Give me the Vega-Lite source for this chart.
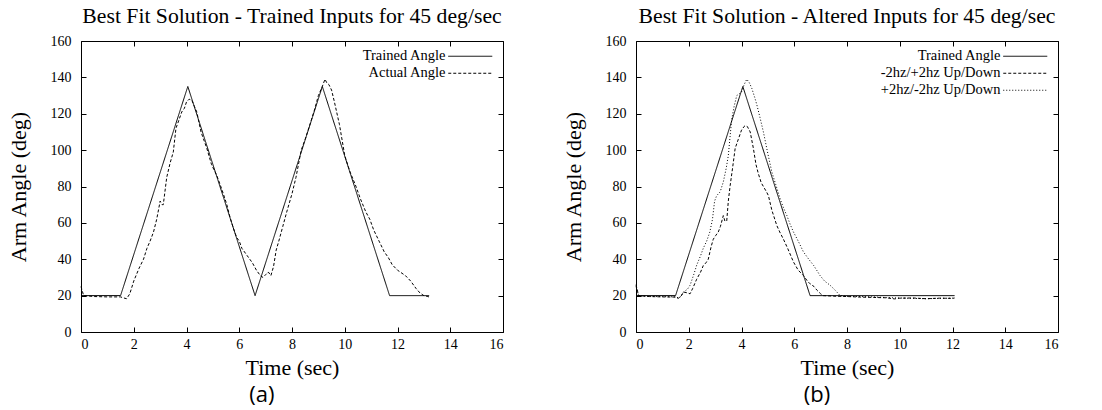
{
  "$schema": "https://vega.github.io/schema/vega-lite/v6.json",
  "background": "white",
  "padding": {"left": 6, "top": 5, "right": 5, "bottom": 2},
  "spacing": 57,
  "config": {
    "view": {"stroke": "black", "strokeWidth": 1},
    "font": "Liberation Serif",
    "title": {"font": "Liberation Serif", "fontSize": 21.7, "fontWeight": "normal", "color": "black", "offset": 6},
    "axis": {"grid": false, "domain": false, "ticks": true, "tickColor": "black", "tickOpacity": 1, "tickWidth": 1, "tickSize": 5, "offset": -5, "zindex": 1, "labelFont": "Liberation Serif", "labelFontSize": 14, "labelColor": "black", "titleFont": "Liberation Serif", "titleFontSize": 22, "titleFontWeight": "normal", "titleColor": "black"},
    "legend": {"orient": "top-right", "offset": 8, "labelFont": "Liberation Serif", "labelFontSize": 14.5, "labelColor": "black", "labelAlign": "right", "labelOffset": -32, "symbolType": "M-4,0H4", "symbolSize": 121, "symbolStrokeWidth": 1, "symbolStrokeColor": "black", "rowPadding": 2, "title": null}
  },
  "resolve": {"scale": {"strokeDash": "independent"}, "legend": {"strokeDash": "independent"}},
  "datasets": {
    "left": [
      {"series": "Trained Angle", "t": 0, "angle": 20},
      {"series": "Trained Angle", "t": 1.5, "angle": 20},
      {"series": "Trained Angle", "t": 4.05, "angle": 135},
      {"series": "Trained Angle", "t": 6.6, "angle": 20},
      {"series": "Trained Angle", "t": 9.15, "angle": 135},
      {"series": "Trained Angle", "t": 11.7, "angle": 20},
      {"series": "Trained Angle", "t": 13.2, "angle": 20},
      {"series": "Actual Angle", "t": 0, "angle": 25},
      {"series": "Actual Angle", "t": 0.1, "angle": 20},
      {"series": "Actual Angle", "t": 0.5, "angle": 19.5},
      {"series": "Actual Angle", "t": 1.0, "angle": 19.3},
      {"series": "Actual Angle", "t": 1.5, "angle": 19.3},
      {"series": "Actual Angle", "t": 1.6, "angle": 18.8},
      {"series": "Actual Angle", "t": 1.73, "angle": 18.3},
      {"series": "Actual Angle", "t": 1.85, "angle": 21},
      {"series": "Actual Angle", "t": 2.0, "angle": 28},
      {"series": "Actual Angle", "t": 2.2, "angle": 35},
      {"series": "Actual Angle", "t": 2.37, "angle": 40},
      {"series": "Actual Angle", "t": 2.5, "angle": 46},
      {"series": "Actual Angle", "t": 2.62, "angle": 50},
      {"series": "Actual Angle", "t": 2.75, "angle": 55},
      {"series": "Actual Angle", "t": 2.87, "angle": 62},
      {"series": "Actual Angle", "t": 2.95, "angle": 68},
      {"series": "Actual Angle", "t": 3.0, "angle": 72},
      {"series": "Actual Angle", "t": 3.08, "angle": 70},
      {"series": "Actual Angle", "t": 3.12, "angle": 70},
      {"series": "Actual Angle", "t": 3.25, "angle": 85},
      {"series": "Actual Angle", "t": 3.38, "angle": 93},
      {"series": "Actual Angle", "t": 3.5, "angle": 99},
      {"series": "Actual Angle", "t": 3.6, "angle": 112},
      {"series": "Actual Angle", "t": 3.7, "angle": 116},
      {"series": "Actual Angle", "t": 3.82, "angle": 121},
      {"series": "Actual Angle", "t": 3.92, "angle": 123},
      {"series": "Actual Angle", "t": 4.0, "angle": 126.5},
      {"series": "Actual Angle", "t": 4.1, "angle": 128},
      {"series": "Actual Angle", "t": 4.2, "angle": 127.5},
      {"series": "Actual Angle", "t": 4.3, "angle": 124},
      {"series": "Actual Angle", "t": 4.39, "angle": 121},
      {"series": "Actual Angle", "t": 4.55, "angle": 110},
      {"series": "Actual Angle", "t": 4.77, "angle": 101},
      {"series": "Actual Angle", "t": 4.95, "angle": 92},
      {"series": "Actual Angle", "t": 5.15, "angle": 86},
      {"series": "Actual Angle", "t": 5.35, "angle": 78},
      {"series": "Actual Angle", "t": 5.53, "angle": 70},
      {"series": "Actual Angle", "t": 5.65, "angle": 63},
      {"series": "Actual Angle", "t": 5.78, "angle": 57},
      {"series": "Actual Angle", "t": 5.9, "angle": 52},
      {"series": "Actual Angle", "t": 6.0, "angle": 50},
      {"series": "Actual Angle", "t": 6.1, "angle": 46},
      {"series": "Actual Angle", "t": 6.3, "angle": 42},
      {"series": "Actual Angle", "t": 6.5, "angle": 38},
      {"series": "Actual Angle", "t": 6.65, "angle": 34},
      {"series": "Actual Angle", "t": 6.8, "angle": 31},
      {"series": "Actual Angle", "t": 6.9, "angle": 30},
      {"series": "Actual Angle", "t": 7.0, "angle": 31.5},
      {"series": "Actual Angle", "t": 7.1, "angle": 33},
      {"series": "Actual Angle", "t": 7.2, "angle": 31},
      {"series": "Actual Angle", "t": 7.3, "angle": 36},
      {"series": "Actual Angle", "t": 7.4, "angle": 45},
      {"series": "Actual Angle", "t": 7.5, "angle": 50},
      {"series": "Actual Angle", "t": 7.65, "angle": 58},
      {"series": "Actual Angle", "t": 7.8, "angle": 66},
      {"series": "Actual Angle", "t": 8.0, "angle": 76},
      {"series": "Actual Angle", "t": 8.15, "angle": 85},
      {"series": "Actual Angle", "t": 8.35, "angle": 100},
      {"series": "Actual Angle", "t": 8.5, "angle": 106},
      {"series": "Actual Angle", "t": 8.7, "angle": 115},
      {"series": "Actual Angle", "t": 8.85, "angle": 122},
      {"series": "Actual Angle", "t": 9.0, "angle": 130},
      {"series": "Actual Angle", "t": 9.15, "angle": 135},
      {"series": "Actual Angle", "t": 9.25, "angle": 139},
      {"series": "Actual Angle", "t": 9.32, "angle": 137},
      {"series": "Actual Angle", "t": 9.4, "angle": 136},
      {"series": "Actual Angle", "t": 9.5, "angle": 133},
      {"series": "Actual Angle", "t": 9.6, "angle": 127},
      {"series": "Actual Angle", "t": 9.8, "angle": 114},
      {"series": "Actual Angle", "t": 10.0, "angle": 97},
      {"series": "Actual Angle", "t": 10.2, "angle": 88},
      {"series": "Actual Angle", "t": 10.4, "angle": 81},
      {"series": "Actual Angle", "t": 10.6, "angle": 73},
      {"series": "Actual Angle", "t": 10.8, "angle": 66},
      {"series": "Actual Angle", "t": 10.95, "angle": 62},
      {"series": "Actual Angle", "t": 11.1, "angle": 56},
      {"series": "Actual Angle", "t": 11.3, "angle": 50},
      {"series": "Actual Angle", "t": 11.5, "angle": 44},
      {"series": "Actual Angle", "t": 11.65, "angle": 41},
      {"series": "Actual Angle", "t": 11.8, "angle": 37},
      {"series": "Actual Angle", "t": 12.0, "angle": 34},
      {"series": "Actual Angle", "t": 12.3, "angle": 31},
      {"series": "Actual Angle", "t": 12.5, "angle": 28},
      {"series": "Actual Angle", "t": 12.7, "angle": 24},
      {"series": "Actual Angle", "t": 12.85, "angle": 21.5},
      {"series": "Actual Angle", "t": 13.0, "angle": 20},
      {"series": "Actual Angle", "t": 13.15, "angle": 19.5},
      {"series": "Actual Angle", "t": 13.25, "angle": 19}
    ],
    "right": [
      {"series": "Trained Angle", "t": 0, "angle": 20},
      {"series": "Trained Angle", "t": 1.5, "angle": 20},
      {"series": "Trained Angle", "t": 4.05, "angle": 135},
      {"series": "Trained Angle", "t": 6.6, "angle": 20},
      {"series": "Trained Angle", "t": 12.08, "angle": 20},
      {"series": "-2hz/+2hz Up/Down", "t": 0, "angle": 26},
      {"series": "-2hz/+2hz Up/Down", "t": 0.1, "angle": 20},
      {"series": "-2hz/+2hz Up/Down", "t": 0.5, "angle": 19.5},
      {"series": "-2hz/+2hz Up/Down", "t": 1.0, "angle": 19.3},
      {"series": "-2hz/+2hz Up/Down", "t": 1.5, "angle": 19.2},
      {"series": "-2hz/+2hz Up/Down", "t": 1.6, "angle": 18.5},
      {"series": "-2hz/+2hz Up/Down", "t": 1.7, "angle": 19.5},
      {"series": "-2hz/+2hz Up/Down", "t": 1.8, "angle": 22},
      {"series": "-2hz/+2hz Up/Down", "t": 1.95, "angle": 21.5},
      {"series": "-2hz/+2hz Up/Down", "t": 2.05, "angle": 21},
      {"series": "-2hz/+2hz Up/Down", "t": 2.15, "angle": 24},
      {"series": "-2hz/+2hz Up/Down", "t": 2.3, "angle": 29},
      {"series": "-2hz/+2hz Up/Down", "t": 2.45, "angle": 33},
      {"series": "-2hz/+2hz Up/Down", "t": 2.55, "angle": 36.5},
      {"series": "-2hz/+2hz Up/Down", "t": 2.65, "angle": 38},
      {"series": "-2hz/+2hz Up/Down", "t": 2.74, "angle": 40},
      {"series": "-2hz/+2hz Up/Down", "t": 2.85, "angle": 47},
      {"series": "-2hz/+2hz Up/Down", "t": 2.93, "angle": 51},
      {"series": "-2hz/+2hz Up/Down", "t": 3.02, "angle": 53},
      {"series": "-2hz/+2hz Up/Down", "t": 3.12, "angle": 55},
      {"series": "-2hz/+2hz Up/Down", "t": 3.2, "angle": 58},
      {"series": "-2hz/+2hz Up/Down", "t": 3.31, "angle": 64},
      {"series": "-2hz/+2hz Up/Down", "t": 3.37, "angle": 61},
      {"series": "-2hz/+2hz Up/Down", "t": 3.44, "angle": 61},
      {"series": "-2hz/+2hz Up/Down", "t": 3.5, "angle": 72},
      {"series": "-2hz/+2hz Up/Down", "t": 3.57, "angle": 80.5},
      {"series": "-2hz/+2hz Up/Down", "t": 3.66, "angle": 90},
      {"series": "-2hz/+2hz Up/Down", "t": 3.76, "angle": 101},
      {"series": "-2hz/+2hz Up/Down", "t": 3.88, "angle": 106},
      {"series": "-2hz/+2hz Up/Down", "t": 4.0, "angle": 111},
      {"series": "-2hz/+2hz Up/Down", "t": 4.1, "angle": 113},
      {"series": "-2hz/+2hz Up/Down", "t": 4.14, "angle": 113.5},
      {"series": "-2hz/+2hz Up/Down", "t": 4.22, "angle": 113},
      {"series": "-2hz/+2hz Up/Down", "t": 4.33, "angle": 110},
      {"series": "-2hz/+2hz Up/Down", "t": 4.45, "angle": 101},
      {"series": "-2hz/+2hz Up/Down", "t": 4.55, "angle": 92},
      {"series": "-2hz/+2hz Up/Down", "t": 4.64, "angle": 87},
      {"series": "-2hz/+2hz Up/Down", "t": 4.75, "angle": 82},
      {"series": "-2hz/+2hz Up/Down", "t": 4.83, "angle": 80},
      {"series": "-2hz/+2hz Up/Down", "t": 4.95, "angle": 77},
      {"series": "-2hz/+2hz Up/Down", "t": 5.02, "angle": 75},
      {"series": "-2hz/+2hz Up/Down", "t": 5.15, "angle": 67},
      {"series": "-2hz/+2hz Up/Down", "t": 5.34, "angle": 58.5},
      {"series": "-2hz/+2hz Up/Down", "t": 5.45, "angle": 55},
      {"series": "-2hz/+2hz Up/Down", "t": 5.59, "angle": 51},
      {"series": "-2hz/+2hz Up/Down", "t": 5.75, "angle": 46},
      {"series": "-2hz/+2hz Up/Down", "t": 5.97, "angle": 38.5},
      {"series": "-2hz/+2hz Up/Down", "t": 6.15, "angle": 34},
      {"series": "-2hz/+2hz Up/Down", "t": 6.35, "angle": 31},
      {"series": "-2hz/+2hz Up/Down", "t": 6.5, "angle": 28},
      {"series": "-2hz/+2hz Up/Down", "t": 6.6, "angle": 26.5},
      {"series": "-2hz/+2hz Up/Down", "t": 6.75, "angle": 25},
      {"series": "-2hz/+2hz Up/Down", "t": 6.86, "angle": 23},
      {"series": "-2hz/+2hz Up/Down", "t": 7.0, "angle": 21},
      {"series": "-2hz/+2hz Up/Down", "t": 7.1, "angle": 20},
      {"series": "-2hz/+2hz Up/Down", "t": 7.5, "angle": 19.7},
      {"series": "-2hz/+2hz Up/Down", "t": 8.0, "angle": 19.5},
      {"series": "-2hz/+2hz Up/Down", "t": 8.5, "angle": 19.2},
      {"series": "-2hz/+2hz Up/Down", "t": 9.0, "angle": 19},
      {"series": "-2hz/+2hz Up/Down", "t": 9.5, "angle": 18.8},
      {"series": "-2hz/+2hz Up/Down", "t": 9.8, "angle": 18.2},
      {"series": "-2hz/+2hz Up/Down", "t": 10.0, "angle": 18.6},
      {"series": "-2hz/+2hz Up/Down", "t": 10.5, "angle": 18.7},
      {"series": "-2hz/+2hz Up/Down", "t": 11.0, "angle": 18.3},
      {"series": "-2hz/+2hz Up/Down", "t": 11.5, "angle": 18.6},
      {"series": "-2hz/+2hz Up/Down", "t": 12.0, "angle": 18.5},
      {"series": "-2hz/+2hz Up/Down", "t": 12.08, "angle": 18.7},
      {"series": "+2hz/-2hz Up/Down", "t": 0, "angle": 25},
      {"series": "+2hz/-2hz Up/Down", "t": 0.1, "angle": 20},
      {"series": "+2hz/-2hz Up/Down", "t": 0.5, "angle": 19.5},
      {"series": "+2hz/-2hz Up/Down", "t": 1.0, "angle": 19.5},
      {"series": "+2hz/-2hz Up/Down", "t": 1.5, "angle": 19.3},
      {"series": "+2hz/-2hz Up/Down", "t": 1.6, "angle": 18.8},
      {"series": "+2hz/-2hz Up/Down", "t": 1.7, "angle": 19.5},
      {"series": "+2hz/-2hz Up/Down", "t": 1.8, "angle": 22},
      {"series": "+2hz/-2hz Up/Down", "t": 1.95, "angle": 23.5},
      {"series": "+2hz/-2hz Up/Down", "t": 2.05, "angle": 25.7},
      {"series": "+2hz/-2hz Up/Down", "t": 2.2, "angle": 32},
      {"series": "+2hz/-2hz Up/Down", "t": 2.3, "angle": 36.7},
      {"series": "+2hz/-2hz Up/Down", "t": 2.45, "angle": 42},
      {"series": "+2hz/-2hz Up/Down", "t": 2.55, "angle": 46},
      {"series": "+2hz/-2hz Up/Down", "t": 2.68, "angle": 50},
      {"series": "+2hz/-2hz Up/Down", "t": 2.8, "angle": 55},
      {"series": "+2hz/-2hz Up/Down", "t": 2.9, "angle": 62},
      {"series": "+2hz/-2hz Up/Down", "t": 2.98, "angle": 72},
      {"series": "+2hz/-2hz Up/Down", "t": 3.06, "angle": 75},
      {"series": "+2hz/-2hz Up/Down", "t": 3.19, "angle": 77},
      {"series": "+2hz/-2hz Up/Down", "t": 3.31, "angle": 82.5},
      {"series": "+2hz/-2hz Up/Down", "t": 3.42, "angle": 90},
      {"series": "+2hz/-2hz Up/Down", "t": 3.5, "angle": 97},
      {"series": "+2hz/-2hz Up/Down", "t": 3.57, "angle": 108},
      {"series": "+2hz/-2hz Up/Down", "t": 3.63, "angle": 117},
      {"series": "+2hz/-2hz Up/Down", "t": 3.72, "angle": 124},
      {"series": "+2hz/-2hz Up/Down", "t": 3.82, "angle": 130},
      {"series": "+2hz/-2hz Up/Down", "t": 3.92, "angle": 131},
      {"series": "+2hz/-2hz Up/Down", "t": 4.0, "angle": 132},
      {"series": "+2hz/-2hz Up/Down", "t": 4.1, "angle": 136},
      {"series": "+2hz/-2hz Up/Down", "t": 4.2, "angle": 139},
      {"series": "+2hz/-2hz Up/Down", "t": 4.3, "angle": 137},
      {"series": "+2hz/-2hz Up/Down", "t": 4.39, "angle": 134},
      {"series": "+2hz/-2hz Up/Down", "t": 4.5, "angle": 129},
      {"series": "+2hz/-2hz Up/Down", "t": 4.58, "angle": 125},
      {"series": "+2hz/-2hz Up/Down", "t": 4.7, "angle": 118},
      {"series": "+2hz/-2hz Up/Down", "t": 4.83, "angle": 110},
      {"series": "+2hz/-2hz Up/Down", "t": 5.0, "angle": 98},
      {"series": "+2hz/-2hz Up/Down", "t": 5.15, "angle": 88},
      {"series": "+2hz/-2hz Up/Down", "t": 5.3, "angle": 81},
      {"series": "+2hz/-2hz Up/Down", "t": 5.47, "angle": 73},
      {"series": "+2hz/-2hz Up/Down", "t": 5.6, "angle": 68},
      {"series": "+2hz/-2hz Up/Down", "t": 5.72, "angle": 64},
      {"series": "+2hz/-2hz Up/Down", "t": 5.85, "angle": 59},
      {"series": "+2hz/-2hz Up/Down", "t": 5.97, "angle": 55},
      {"series": "+2hz/-2hz Up/Down", "t": 6.15, "angle": 50},
      {"series": "+2hz/-2hz Up/Down", "t": 6.35, "angle": 44},
      {"series": "+2hz/-2hz Up/Down", "t": 6.55, "angle": 40},
      {"series": "+2hz/-2hz Up/Down", "t": 6.73, "angle": 36.7},
      {"series": "+2hz/-2hz Up/Down", "t": 6.85, "angle": 34},
      {"series": "+2hz/-2hz Up/Down", "t": 6.98, "angle": 31},
      {"series": "+2hz/-2hz Up/Down", "t": 7.15, "angle": 28},
      {"series": "+2hz/-2hz Up/Down", "t": 7.36, "angle": 25.7},
      {"series": "+2hz/-2hz Up/Down", "t": 7.55, "angle": 23},
      {"series": "+2hz/-2hz Up/Down", "t": 7.74, "angle": 20},
      {"series": "+2hz/-2hz Up/Down", "t": 8.0, "angle": 19.6},
      {"series": "+2hz/-2hz Up/Down", "t": 8.5, "angle": 19.5},
      {"series": "+2hz/-2hz Up/Down", "t": 9.0, "angle": 19.3},
      {"series": "+2hz/-2hz Up/Down", "t": 9.5, "angle": 18.9},
      {"series": "+2hz/-2hz Up/Down", "t": 10.0, "angle": 18.7},
      {"series": "+2hz/-2hz Up/Down", "t": 10.5, "angle": 18.5},
      {"series": "+2hz/-2hz Up/Down", "t": 11.0, "angle": 18.3},
      {"series": "+2hz/-2hz Up/Down", "t": 11.5, "angle": 18.5},
      {"series": "+2hz/-2hz Up/Down", "t": 12.0, "angle": 18.6},
      {"series": "+2hz/-2hz Up/Down", "t": 12.08, "angle": 18.5}
    ],
    "labelA": [{"label": "(a)"}],
    "labelB": [{"label": "(b)"}]
  },
  "hconcat": [
    {
      "width": 422,
      "height": 291,
      "title": "Best Fit Solution - Trained Inputs for 45 deg/sec",
      "layer": [
        {
          "data": {"name": "left"},
          "mark": {"type": "line", "strokeWidth": 1, "color": "black"},
          "encoding": {
            "x": {"field": "t", "type": "quantitative", "scale": {"domain": [0, 16]}, "axis": {"orient": "bottom", "values": [0, 2, 4, 6, 8, 10, 12, 14, 16], "title": "Time (sec)", "titleFont": "Liberation Serif", "labelPadding": 5, "titlePadding": 6}},
            "y": {"field": "angle", "type": "quantitative", "scale": {"domain": [0, 160]}, "axis": {"orient": "left", "values": [0, 20, 40, 60, 80, 100, 120, 140, 160], "title": "Arm Angle (deg)", "titleFont": "Liberation Serif", "labelPadding": 10, "titlePadding": 20}},
            "strokeDash": {"field": "series", "type": "nominal", "scale": {"domain": ["Trained Angle", "Actual Angle"], "range": [[1, 0], [3, 2]]}, "legend": {}}
          }
        },
        {
          "data": {"name": "labelA"},
          "mark": {"type": "text", "font": "Open Sans", "fontSize": 22, "color": "black"},
          "encoding": {
            "x": {"datum": 6.86, "type": "quantitative", "axis": {"orient": "top", "values": [0, 2, 4, 6, 8, 10, 12, 14, 16], "labels": false, "title": null}},
            "y": {"datum": -34.5, "type": "quantitative", "axis": {"orient": "right", "values": [0, 20, 40, 60, 80, 100, 120, 140, 160], "labels": false, "title": null}},
            "text": {"field": "label"}
          }
        }
      ]
    },
    {
      "width": 422,
      "height": 291,
      "title": "Best Fit Solution - Altered Inputs for 45 deg/sec",
      "layer": [
        {
          "data": {"name": "right"},
          "mark": {"type": "line", "strokeWidth": 1, "color": "black"},
          "encoding": {
            "x": {"field": "t", "type": "quantitative", "scale": {"domain": [0, 16]}, "axis": {"orient": "bottom", "values": [0, 2, 4, 6, 8, 10, 12, 14, 16], "title": "Time (sec)", "titleFont": "Liberation Serif", "labelPadding": 5, "titlePadding": 6}},
            "y": {"field": "angle", "type": "quantitative", "scale": {"domain": [0, 160]}, "axis": {"orient": "left", "values": [0, 20, 40, 60, 80, 100, 120, 140, 160], "title": "Arm Angle (deg)", "titleFont": "Liberation Serif", "labelPadding": 10, "titlePadding": 20}},
            "strokeDash": {"field": "series", "type": "nominal", "scale": {"domain": ["Trained Angle", "-2hz/+2hz Up/Down", "+2hz/-2hz Up/Down"], "range": [[1, 0], [3, 2], [1, 2]]}, "legend": {}}
          }
        },
        {
          "data": {"name": "labelB"},
          "mark": {"type": "text", "font": "Open Sans", "fontSize": 22, "color": "black"},
          "encoding": {
            "x": {"datum": 6.86, "type": "quantitative", "axis": {"orient": "top", "values": [0, 2, 4, 6, 8, 10, 12, 14, 16], "labels": false, "title": null}},
            "y": {"datum": -34.5, "type": "quantitative", "axis": {"orient": "right", "values": [0, 20, 40, 60, 80, 100, 120, 140, 160], "labels": false, "title": null}},
            "text": {"field": "label"}
          }
        }
      ]
    }
  ]
}
